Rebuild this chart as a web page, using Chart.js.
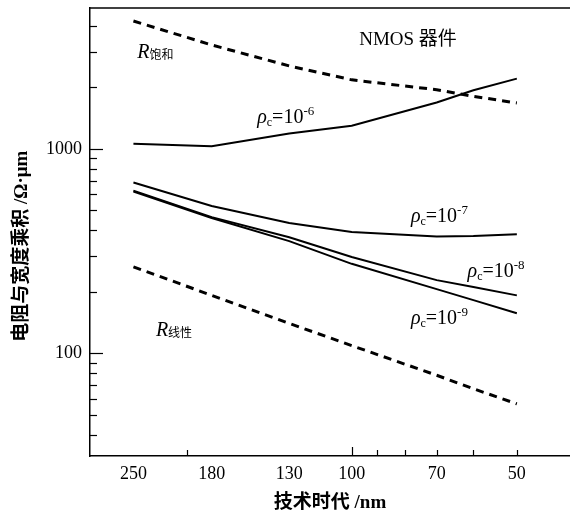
<!DOCTYPE html>
<html>
<head>
<meta charset="utf-8">
<script src="https://cdn.jsdelivr.net/npm/chart.js@4"></script>
<style>
  body { margin: 0; background: #fff; }
</style>
</head>
<body>
<canvas id="chart" width="570" height="516"></canvas>
<script>
// technology node (nm)
const nodes = [250, 180, 130, 100, 70, 60, 50];

// resistance x width (ohm.um)
const rSat = [4230, 3230, 2550, 2180, 1950, 1810, 1680];
const rho6 = [1060, 1030, 1190, 1300, 1690, 1940, 2210];
const rho7 = [685, 526, 434, 392, 373, 375, 382];
const rho8 = [625, 464, 370, 296, 228, 211, 192];
const rho9 = [619, 459, 354, 274, 206, 182, 157];
const rLin = [265, 192, 140, 109, 78, 67, 56.5];

// tick labels and tick marks
const xLabels = [250, 180, 130, 100, 70, 50];
const xMarks = [200, 100, 90, 80, 70, 60, 50];
const yLabels = [100, 1000];
const yMarks = [40, 50, 60, 70, 80, 90, 100, 200, 300, 400, 500, 600, 700, 800, 900, 1000, 2000, 3000, 4000];

const SERIF = "'Liberation Serif', 'Noto Sans CJK SC', serif";

function pts(arr) {
    return nodes.map((x, i) => ({ x: x, y: arr[i] }));
}

function solid(arr) {
    return { data: pts(arr), borderColor: '#000', borderWidth: 2, pointRadius: 0, tension: 0 };
}

function dashed(arr) {
    return { data: pts(arr), borderColor: '#000', borderWidth: 3, borderDash: [8, 6], pointRadius: 0, tension: 0 };
}

// text labels inside the plot: anchored on data values
function rhoLabel(x, y, exp) {
    return { x: x, y: y, parts: [['ρ', 'it'], ['c', 'sub'], ['=10', 'n'], [exp, 'sup']] };
}

const notes = [
    { x: 96.9, y: 3228, parts: [['NMOS 器件', 'title']] },
    { x: 246, y: 2790, parts: [['R', 'it'], ['饱和', 'subcjk']] },
    rhoLabel(148.7, 1341, '-6'),
    rhoLabel(78.0, 441, '-7'),
    rhoLabel(61.5, 237, '-8'),
    rhoLabel(78.0, 139, '-9'),
    { x: 227.5, y: 121.6, parts: [['R', 'it'], ['线性', 'subcjk']] }
];

const partStyle = {
    title: { font: '19px ' + SERIF, dy: 0 },
    n: { font: '20px ' + SERIF, dy: 0 },
    it: { font: 'italic 20px ' + SERIF, dy: 0 },
    sub: { font: '12px ' + SERIF, dy: 3 },
    subcjk: { font: '12px ' + SERIF, dy: 1 },
    sup: { font: '13px ' + SERIF, dy: -8 }
};

const frame = {
    id: 'frame',
    afterDraw(chart) {
        const { ctx, chartArea: a, scales: { x, y } } = chart;
        ctx.save();
        ctx.strokeStyle = '#000';
        ctx.lineWidth = 1.5;

        // top border
        ctx.beginPath();
        ctx.moveTo(a.left, a.top);
        ctx.lineTo(a.right, a.top);
        ctx.stroke();

        // inside tick marks
        ctx.lineWidth = 1.2;
        yMarks.forEach(v => {
            const py = Math.round(y.getPixelForValue(v)) + 0.5;
            const len = yLabels.includes(v) ? 13 : 7;
            ctx.beginPath();
            ctx.moveTo(a.left, py);
            ctx.lineTo(a.left + len, py);
            ctx.stroke();
        });
        xMarks.forEach(v => {
            const px = Math.round(x.getPixelForValue(v)) + 0.5;
            const len = v === 100 ? 9 : 6;
            ctx.beginPath();
            ctx.moveTo(px, a.bottom);
            ctx.lineTo(px, a.bottom - len);
            ctx.stroke();
        });

        // annotations
        ctx.fillStyle = '#000';
        ctx.textBaseline = 'alphabetic';
        ctx.textAlign = 'left';
        notes.forEach(n => {
            let px = x.getPixelForValue(n.x);
            const py = y.getPixelForValue(n.y);
            n.parts.forEach(([t, k]) => {
                const s = partStyle[k];
                ctx.font = s.font;
                ctx.fillText(t, px, py + s.dy);
                px += ctx.measureText(t).width;
            });
        });
        ctx.restore();
    }
};

new Chart(document.getElementById('chart'), {
    type: 'line',
    data: {
        datasets: [dashed(rSat), solid(rho6), solid(rho7), solid(rho8), solid(rho9), dashed(rLin)]
    },
    options: {
        responsive: false,
        animation: false,
        layout: { padding: { top: 8, right: 0, left: 0, bottom: 0 } },
        plugins: { legend: { display: false }, tooltip: { enabled: false } },
        scales: {
            x: {
                type: 'logarithmic',
                reverse: true,
                min: 40,
                max: 300,
                afterBuildTicks: s => { s.ticks = xLabels.map(v => ({ value: v })); },
                afterFit: s => { s.height = 60; s.paddingLeft = 0; s.paddingRight = 0; },
                grid: { display: false, drawTicks: false },
                border: { display: true, color: '#000', width: 1.5 },
                ticks: {
                    autoSkip: false, maxRotation: 0, padding: 7, color: '#000',
                    font: { family: SERIF, size: 18 },
                    callback: v => String(v)
                },
                title: {
                    display: true, text: '技术时代 /nm', color: '#000',
                    font: { family: SERIF, size: 19, weight: 'bold' },
                    padding: { top: 0, bottom: 2 }
                }
            },
            y: {
                type: 'logarithmic',
                min: 31.4,
                max: 4900,
                afterBuildTicks: s => { s.ticks = yLabels.map(v => ({ value: v })); },
                afterFit: s => { s.width = 90; s.paddingTop = 0; s.paddingBottom = 0; },
                grid: { display: false, drawTicks: false },
                border: { display: true, color: '#000', width: 1.5 },
                ticks: {
                    padding: 8, color: '#000',
                    font: { family: SERIF, size: 18 },
                    callback: v => String(v)
                },
                title: {
                    display: true, text: '电阻与宽度乘积 /Ω·μm\u00a0\u00a0\u00a0\u00a0\u00a0\u00a0', color: '#000',
                    font: { family: SERIF, size: 19, weight: 'bold' },
                    padding: { top: 11, bottom: 0 }
                }
            }
        }
    },
    plugins: [frame]
});
</script>
</body>
</html>
